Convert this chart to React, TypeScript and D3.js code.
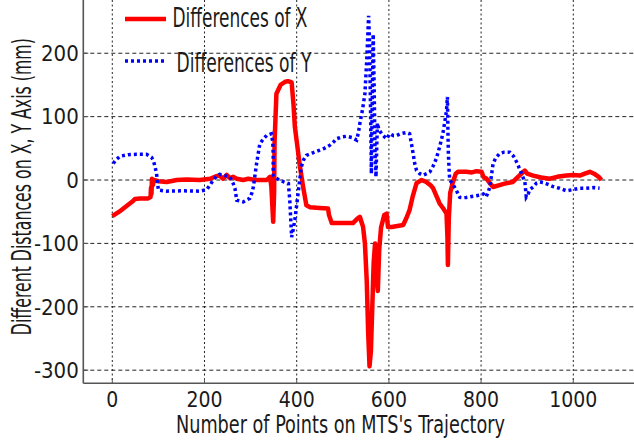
import React from "react";
import * as d3 from "d3";

// values
const diffXPoints: [number, number][] = [
  [0, -57], [15, -50], [31, -41], [45, -33], [49, -30], [60, -29], [78, -29], [83, -27],
  [84, -12], [85, -22], [86, 2], [88, -8], [90, 0], [100, -2], [118, -3], [140, 0],
  [161, 1], [190, 0], [212, 2], [225, 6], [233, 7], [240, 2], [248, 8], [255, 3],
  [262, 5], [270, 2], [284, 0], [295, 2], [310, 0], [335, 0], [342, 5], [345, -10],
  [349, -66], [351, -20], [352, 60], [356, 136], [365, 150], [375, 155], [381, 156], [389, 154],
  [393, 120], [396, 84], [402, 50], [407, 21], [414, -11], [421, -40], [429, -43], [450, -44],
  [468, -45], [470, -55], [476, -68], [500, -68], [522, -68], [530, -62], [537, -58], [540, -65],
  [544, -74], [548, -100], [552, -160], [555, -240], [558, -294], [561, -270], [564, -200], [567, -130],
  [570, -100], [573, -150], [576, -175], [579, -110], [583, -75], [590, -55], [595, -53], [598, -74],
  [606, -74], [631, -71], [638, -60], [645, -47], [652, -25], [660, -5], [671, 0], [681, -3],
  [690, -8], [696, -13], [703, -25], [710, -37], [718, -45], [725, -53], [727, -90], [728, -134],
  [730, -60], [733, -20], [739, -3], [745, 10], [750, 13], [768, 13], [780, 12], [790, 14],
  [801, 13], [805, 5], [812, 2], [820, -6], [826, -11], [840, -8], [855, -5], [869, -3],
  [880, 5], [895, 15], [900, 10], [913, 7], [930, 4], [949, 2], [965, 5], [985, 7],
  [1000, 8], [1014, 7], [1025, 10], [1036, 13], [1045, 10], [1055, 5], [1061, 0],
];

const diffYPoints: [number, number][] = [
  [2, 26], [8, 32], [17, 37.5], [35, 40], [53, 40.6], [74, 40.6], [85, 36], [89, 31],
  [93, 20], [96, 10], [100, -16], [118, -17.6], [150, -17], [190, -17.6], [205, -15], [212, -8],
  [219, 0], [226, 6], [233, 9], [245, 7], [255, 5], [262, -5], [266, -13], [270, -32],
  [284, -34.5], [298, -29], [303, -20], [306, -11], [310, 10], [313, 26], [320, 57], [328, 65],
  [335, 70.5], [345, 73], [348, 60], [349, 41.7], [349, 7.5], [355, 3], [363, 0], [372, -3],
  [382, -5.6], [385, -32], [389, -90], [392, -80], [396, -63], [403, -21], [410, 20.6], [415, 32],
  [421, 39], [435, 43], [450, 47], [460, 50], [472, 55], [480, 60], [486, 65], [498, 68],
  [508, 69], [520, 67], [530, 63], [534, 75], [537, 89], [543, 112], [548, 136], [552, 190],
  [556, 259], [558, 220], [560, 120], [562, 10], [564, 130], [566, 230], [568, 150], [570, 40],
  [572, 5], [575, 90], [578, 80], [585, 72], [595, 65], [602, 73], [610, 70], [616, 70],
  [625, 73], [638, 75], [645, 73], [649, 57], [653, 40], [656, 26], [660, 15], [667, 10],
  [674, 7.5], [682, 10], [689, 13], [696, 22], [703, 34], [710, 52], [717, 73], [722, 95],
  [725, 110], [727, 131], [728, 80], [729, 41.7], [731, 10], [732, 0], [740, -8], [746, -16],
  [754, -27.5], [760, -28], [768, -27.5], [780, -26], [797, -24], [805, -22], [811, -26.6], [815, -20],
  [819, -11], [823, 10], [826, 26], [832, 35], [840, 41.7], [850, 44], [862, 44], [870, 38],
  [877, 28.5], [881, 22], [885, 15], [890, 6], [895, -3], [898, -26.6], [902, -22], [906, -15],
  [913, -11], [920, -5], [927, -3], [935, -4], [941, -5.6], [955, -10], [970, -13], [985, -17],
  [1000, -15], [1014, -13], [1028, -13], [1045, -12], [1057, -13],
];

const xTicks = [0, 200, 400, 600, 800, 1000];
const yTicks = [-300, -200, -100, 0, 100, 200];
const legendLabels = ["Differences of X", "Differences of Y"];
const xLabel = "Number of Points on MTS's Trajectory";
const yLabel = "Different Distances on X, Y Axis (mm)";

const W = 634;
const H = 444;
const FONT = "'Liberation Sans Narrow', 'DejaVu Sans Condensed', 'Arial Narrow', sans-serif";
const TEXT = "#1a1a1a";

export default function App() {
  // plot box: left axis at 83.3, bottom axis at 383.3, cropped at top and right
  const x = d3.scaleLinear().domain([-62.9, 1131.7]).range([83.3, W]);
  const y = d3.scaleLinear().domain([-320.7, 284]).range([383.3, 0]);

  const line = d3
    .line<[number, number]>()
    .x(d => x(d[0]))
    .y(d => y(d[1]));

  const left = x.range()[0];
  const right = x.range()[1];
  const top = y.range()[1];
  const bottom = y.range()[0];

  return (
    <svg
      width={W}
      height={H}
      style={{ position: "absolute", left: 0, top: 0, background: "#fff" }}
    >
      <rect width={W} height={H} fill="#fff" />

      {/* grid */}
      {xTicks.map(t => (
        <line
          key={"gx" + t}
          x1={x(t)}
          x2={x(t)}
          y1={top}
          y2={bottom}
          stroke="#222"
          strokeWidth={1}
          strokeDasharray="2,2.5"
        />
      ))}
      {yTicks.map(t => (
        <line
          key={"gy" + t}
          x1={left}
          x2={right}
          y1={y(t)}
          y2={y(t)}
          stroke="#222"
          strokeWidth={1}
          strokeDasharray="4,3"
        />
      ))}

      {/* series */}
      <path
        d={line(diffXPoints) || ""}
        fill="none"
        stroke="#ff0000"
        strokeWidth={4.5}
        strokeLinejoin="round"
      />
      <path
        d={line(diffYPoints) || ""}
        fill="none"
        stroke="#0000ff"
        strokeWidth={3.5}
        strokeDasharray="3,3"
      />

      {/* axes */}
      <line x1={left} x2={left} y1={top} y2={bottom} stroke="#555" strokeWidth={1.6} />
      <line x1={left} x2={right} y1={bottom} y2={bottom} stroke="#555" strokeWidth={1.6} />
      {xTicks.map(t => (
        <g key={"tx" + t} transform={`translate(${x(t)},${bottom})`}>
          <line y2={-5} stroke="#555" strokeWidth={1} />
          <text
            y={23.5}
            textAnchor="middle"
            fontFamily={FONT}
            fontSize={21}
            fill={TEXT}
          >
            {t}
          </text>
        </g>
      ))}
      {yTicks.map(t => (
        <g key={"ty" + t} transform={`translate(${left},${y(t)})`}>
          <line x2={5} stroke="#555" strokeWidth={1} />
          <text
            x={-4.5}
            y={7.8}
            textAnchor="end"
            fontFamily={FONT}
            fontSize={22}
            fill={TEXT}
          >
            {t}
          </text>
        </g>
      ))}

      {/* axis titles */}
      <text
        x={340.5}
        y={433}
        textAnchor="middle"
        fontFamily={FONT}
        fontSize={25}
        fill={TEXT}
        textLength={329}
        lengthAdjust="spacingAndGlyphs"
      >
        {xLabel}
      </text>
      {/* tall narrow title: smaller font stretched across the glyph height */}
      <g transform="translate(31,186.7) rotate(-90) scale(1,1.5)">
        <text
          textAnchor="middle"
          fontFamily={FONT}
          fontSize={18}
          fill={TEXT}
          textLength={297}
          lengthAdjust="spacingAndGlyphs"
        >
          {yLabel}
        </text>
      </g>

      {/* legend */}
      <line x1={125} x2={166} y1={19} y2={19} stroke="#ff0000" strokeWidth={4.5} />
      <text
        x={172.5}
        y={27.3}
        fontFamily={FONT}
        fontSize={27}
        fill={TEXT}
        textLength={135}
        lengthAdjust="spacingAndGlyphs"
      >
        {legendLabels[0]}
      </text>
      <line
        x1={125}
        x2={167}
        y1={61}
        y2={61}
        stroke="#0000ff"
        strokeWidth={3.5}
        strokeDasharray="3,3"
      />
      <text
        x={176.5}
        y={71.7}
        fontFamily={FONT}
        fontSize={27}
        fill={TEXT}
        textLength={135}
        lengthAdjust="spacingAndGlyphs"
      >
        {legendLabels[1]}
      </text>
    </svg>
  );
}
